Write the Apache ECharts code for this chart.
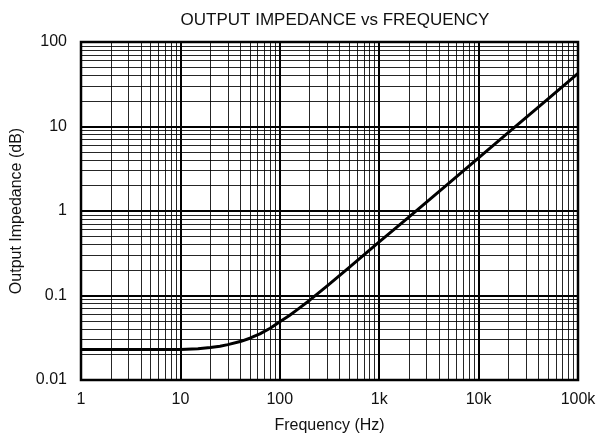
<!DOCTYPE html>
<html>
<head>
<meta charset="utf-8">
<script src="https://cdn.jsdelivr.net/npm/echarts@6/dist/echarts.min.js"></script>
<style>html,body{margin:0;padding:0;background:#fff}#c{width:610px;height:444px}</style>
</head>
<body>
<div id="c"></div>
<script>
// Data
const freq = [1, 2, 5, 10, 15, 20, 25, 30, 40, 50, 63, 80, 100, 125, 150, 200, 300, 500, 1000, 2000, 5000, 10000, 20000, 50000, 100000];
const imped = [0.023, 0.023, 0.023, 0.023, 0.0235, 0.0242, 0.0251, 0.0262, 0.0285, 0.0312, 0.0352, 0.041, 0.049, 0.058, 0.068, 0.088, 0.13, 0.215, 0.43, 0.85, 2.12, 4.25, 8.5, 21.2, 42.5];
const xTickLabels = ['1', '10', '100', '1k', '10k', '100k'];
const yTickLabels = ['0.01', '0.1', '1', '10', '100'];
const xTickValues = [1, 10, 100, 1000, 10000, 100000];
const yTickValues = [0.01, 0.1, 1, 10, 100];
const xDecades = [1, 10, 100, 1000, 10000];
const yDecades = [0.01, 0.1, 1, 10];
const minorMult = [2, 3, 4, 5, 6, 7, 8, 9];

const xMinor = [];
xDecades.forEach(d => minorMult.forEach(m => xMinor.push(d * m)));
const yMinor = [];
yDecades.forEach(d => minorMult.forEach(m => yMinor.push(d * m)));

const chart = echarts.init(document.getElementById('c'), null, {renderer: 'canvas'});
const font = 'Liberation Sans, Arial, Helvetica, sans-serif';

function lookup(vals, labels, v) {
  for (let i = 0; i < vals.length; i++) {
    if (Math.abs(Math.log10(vals[i]) - Math.log10(v)) < 1e-6) return labels[i];
  }
  return '';
}

chart.setOption({
  animation: false,
  title: {
    text: 'OUTPUT IMPEDANCE vs FREQUENCY',
    left: 330, top: 7, textAlign: 'center',
    textStyle: {fontFamily: font, fontSize: 17, fontWeight: 'normal', color: '#111'}
  },
  grid: {left: 81, right: 32, top: 42, bottom: 64, show: true, borderColor: '#000', borderWidth: 2.5, backgroundColor: 'transparent'},
  xAxis: {
    type: 'log', logBase: 10, min: 1, max: 100000,
    name: 'Frequency (Hz)', nameLocation: 'middle', nameGap: 38,
    nameTextStyle: {fontFamily: font, fontSize: 16, color: '#111'},
    axisLine: {show: false},
    axisTick: {show: false},
    axisLabel: {fontFamily: font, fontSize: 16, color: '#111', margin: 12, formatter: v => lookup(xTickValues, xTickLabels, v)},
    splitLine: {show: true, lineStyle: {color: '#000', width: 2}},
    minorTick: {show: false}, minorSplitLine: {show: false}
  },
  yAxis: {
    type: 'log', logBase: 10, min: 0.01, max: 100,
    name: 'Output Impedance (dB)', nameLocation: 'middle', nameGap: 49,
    nameTextStyle: {fontFamily: font, fontSize: 16, color: '#111'},
    axisLine: {show: false},
    axisTick: {show: false},
    axisLabel: {fontFamily: font, fontSize: 16, color: '#111', margin: 14, formatter: v => lookup(yTickValues, yTickLabels, v)},
    splitLine: {show: true, lineStyle: {color: '#000', width: 2}},
    minorTick: {show: false}, minorSplitLine: {show: false}
  },
  series: [{
    type: 'line',
    data: freq.map((f, i) => [f, imped[i]]),
    smooth: false,
    showSymbol: false,
    lineStyle: {color: '#000', width: 3, join: 'round'},
    z: 10,
    markLine: {
      silent: true,
      symbol: ['none', 'none'],
      label: {show: false},
      animation: false,
      lineStyle: {color: '#000', width: 1, type: 'solid', opacity: 0.85},
      data: xMinor.map(v => ({xAxis: v})).concat(yMinor.map(v => ({yAxis: v})))
    }
  }]
});
</script>
</body>
</html>
